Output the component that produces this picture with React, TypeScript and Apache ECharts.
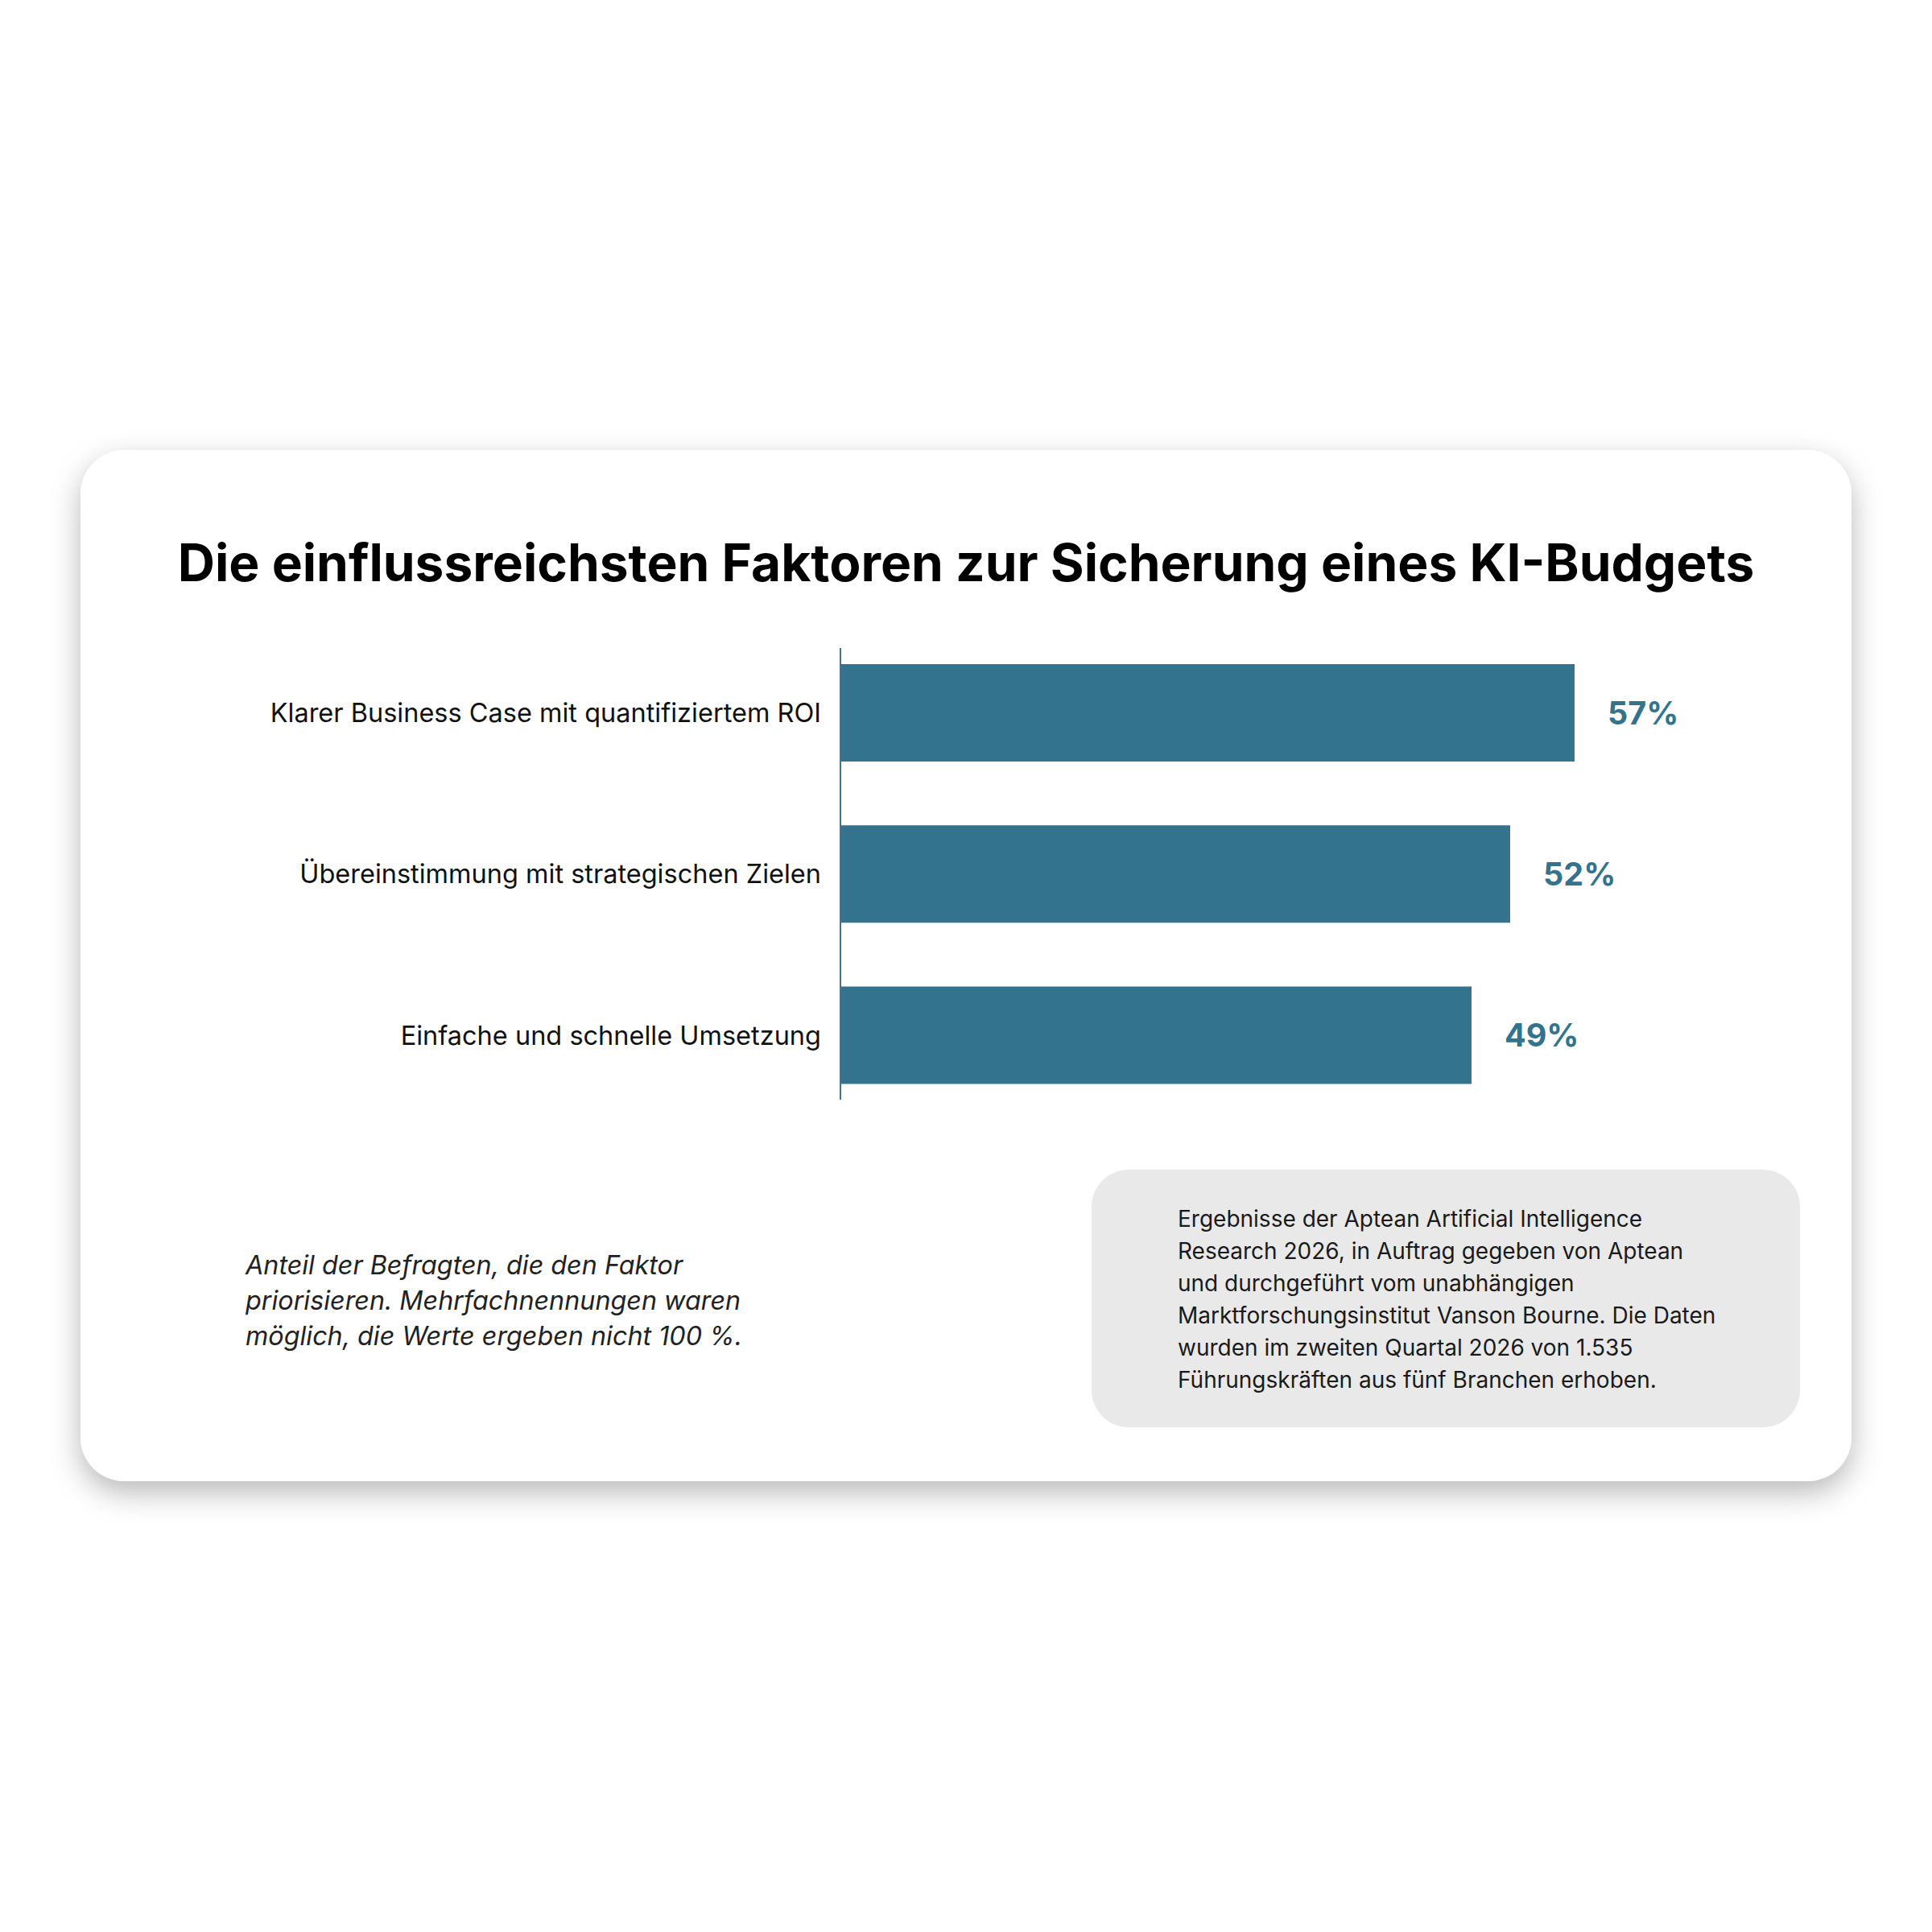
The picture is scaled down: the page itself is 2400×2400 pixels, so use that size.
import React, { useEffect, useRef } from "react";
import * as echarts from "echarts";

const titleText = "Die einflussreichsten Faktoren zur Sicherung eines KI-Budgets";
const categories = [
  "Klarer Business Case mit quantifiziertem ROI",
  "Übereinstimmung mit strategischen Zielen",
  "Einfache und schnelle Umsetzung",
];
const values = [57, 52, 49];
const footnoteLines = [
  "Anteil der Befragten, die den Faktor",
  "priorisieren. Mehrfachnennungen waren",
  "möglich, die Werte ergeben nicht 100 %.",
];
const sourceLines = [
  "Ergebnisse der Aptean Artificial Intelligence",
  "Research 2026, in Auftrag gegeben von Aptean",
  "und durchgeführt vom unabhängigen",
  "Marktforschungsinstitut Vanson Bourne. Die Daten",
  "wurden im zweiten Quartal 2026 von 1.535",
  "Führungskräften aus fünf Branchen erhoben.",
];

const BAR = "#33738d";
const FONT = "Inter, 'Noto Sans', sans-serif";

export default function App() {
  const ref = useRef<HTMLDivElement>(null);
  useEffect(() => {
    if (!ref.current) return;
    const chart = echarts.init(ref.current, undefined, { renderer: "svg" });
    chart.setOption({
      animation: false,
      backgroundColor: "#ffffff",
      textStyle: { fontFamily: FONT },
      grid: { left: 1044, right: 236, top: 785.5, bottom: 2400 - 1386.2, containLabel: false },
      xAxis: {
        type: "value",
        min: 0,
        max: 70,
        show: false,
        splitLine: { show: false },
      },
      yAxis: {
        type: "category",
        data: categories,
        inverse: true,
        axisLine: { show: false },
        axisTick: { show: false },
        axisLabel: {
          margin: 24,
          fontSize: 32.5,
          color: "#111111",
          fontFamily: FONT,
        },
      },
      series: [
        {
          type: "bar",
          data: values,
          barWidth: 121,
          itemStyle: { color: BAR },
          label: {
            show: true,
            position: "right",
            distance: 41,
            formatter: "{c}%",
            fontSize: 39.5,
            fontWeight: "bold",
            color: BAR,
            fontFamily: FONT,
          },
          z: 3,
        },
      ],
      graphic: [
        {
          type: "rect",
          z: -10,
          shape: { x: 100, y: 559, width: 2200, height: 1281, r: 55 },
          style: {
            fill: "#ffffff",
            shadowBlur: 36,
            shadowOffsetX: 0,
            shadowOffsetY: 14,
            shadowColor: "rgba(0,0,0,0.28)",
          },
        },
        {
          type: "text",
          z: 1,
          x: 1200,
          y: 698,
          style: {
            text: titleText,
            fontSize: 64,
            fontWeight: "bold",
            fontFamily: FONT,
            fill: "#000000",
            textAlign: "center",
            textVerticalAlign: "middle",
          },
        },
        {
          type: "line",
          z: 5,
          shape: { x1: 1044, y1: 805, x2: 1044, y2: 1366 },
          style: { stroke: "#3f7590", lineWidth: 2 },
        },
        {
          type: "text",
          z: 1,
          x: 305,
          y: 1615,
          style: {
            text: footnoteLines.join("\n"),
            fontSize: 32.3,
            fontStyle: "italic",
            lineHeight: 44,
            fontFamily: FONT,
            fill: "#222222",
            textAlign: "left",
            textVerticalAlign: "middle",
          },
        },
        {
          type: "rect",
          z: 0,
          shape: { x: 1356, y: 1453, width: 880, height: 320, r: 46 },
          style: { fill: "#e9e9e9" },
        },
        {
          type: "text",
          z: 1,
          x: 1463,
          y: 1614,
          style: {
            text: sourceLines.join("\n"),
            fontSize: 28,
            lineHeight: 40,
            fontFamily: FONT,
            fill: "#1a1a1a",
            textAlign: "left",
            textVerticalAlign: "middle",
          },
        },
      ],
    });
    return () => chart.dispose();
  }, []);
  return (
    <div
      ref={ref}
      style={{ position: "absolute", left: 0, top: 0, width: 2400, height: 2400 }}
    />
  );
}
